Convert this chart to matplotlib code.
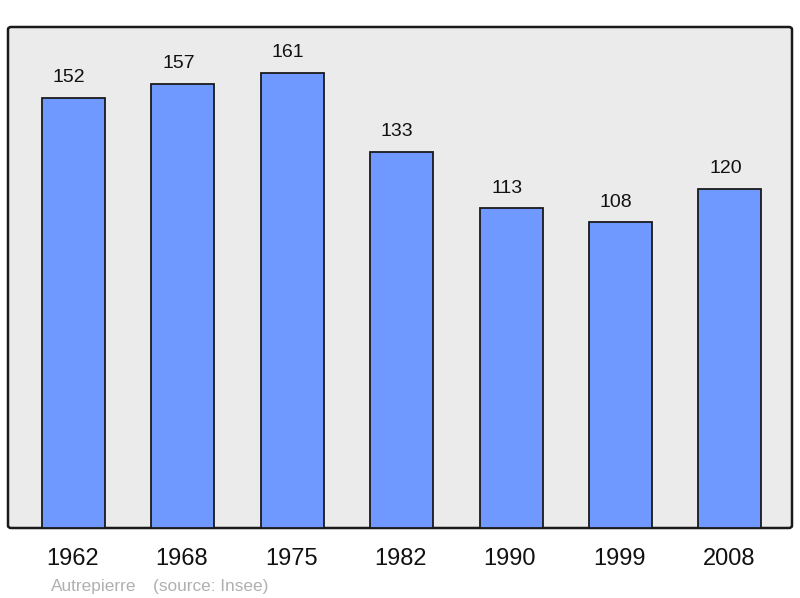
import matplotlib
matplotlib.use("Agg")
import matplotlib.pyplot as plt
from matplotlib.patches import FancyBboxPatch

years = ["1962", "1968", "1975", "1982", "1990", "1999", "2008"]
population = [152, 157, 161, 133, 113, 108, 120]
commune = "Autrepierre"
source = "(source: Insee)"

plt.rcParams['font.family'] = ['Liberation Sans', 'DejaVu Sans']

W, H = 800, 598
fig = plt.figure(figsize=(W / 100, H / 100), dpi=100)

# rounded background frame
frame = FancyBboxPatch((8 / W, 1 - 528 / H), (792 - 8) / W, (528 - 27) / H,
                       boxstyle="round,pad=0,rounding_size=0.004",
                       transform=fig.transFigure, facecolor="#ebebeb",
                       edgecolor="#1a1a1a", linewidth=1.8, zorder=-1)
fig.patches.append(frame)

ax = fig.add_axes([8 / W, 1 - 528 / H, (792 - 8) / W, (528 - 27) / H])
ax.set_facecolor("none")
ax.set_zorder(1)
for s in ax.spines.values():
    s.set_visible(False)

x = list(range(len(years)))
ax.bar(x, population, width=0.576, color="#7099ff", edgecolor="#1a1a1a",
       linewidth=1.3, zorder=2)
ax.set_xlim(-0.599, 6.568)
ax.set_ylim(0, 177.1)
ax.set_xticks([])
ax.set_yticks([])

for xi, v in zip(x, population):
    ax.annotate(str(v), (xi, v), xytext=(-3.2, 8.5), textcoords="offset points",
                ha="center", va="bottom", fontsize=14, color="#111111")

for xi, yr in zip(x, years):
    ax.annotate(yr, (xi, 0), xytext=(-0.8, -22.5), textcoords="offset points",
                ha="center", va="center", fontsize=17, color="#111111",
                annotation_clip=False)

fig.text(51 / W, 1 - 586 / H, commune, ha="left", va="center",
         fontsize=12.4, color="#b0b0b0")
fig.text(153 / W, 1 - 586 / H, source, ha="left", va="center",
         fontsize=12.4, color="#b0b0b0")

fig.savefig("out.png", dpi=100)
